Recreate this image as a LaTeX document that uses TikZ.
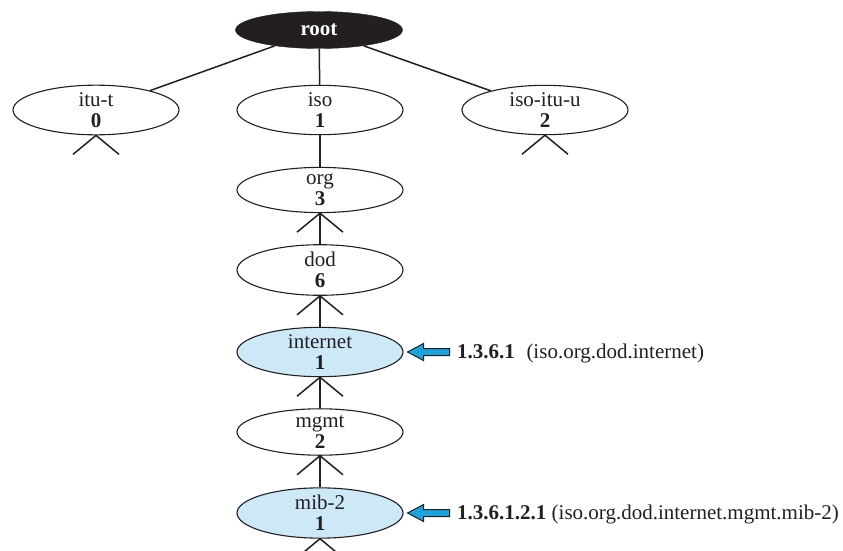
\documentclass[tikz,border=0pt]{standalone}
\usepackage{fontspec}
\setmainfont{Liberation Serif}
\usetikzlibrary{calc,shapes.geometric}
\definecolor{ink}{HTML}{231F20}
\definecolor{paleblue}{HTML}{CDE9F8}
\definecolor{arrowblue}{HTML}{1AA3DC}

% short "other children" mark under a node
\newcommand\forkbelow[1]{\draw[edge] (#1.south) -- ++(-23,19) (#1.south) -- ++(23,19);}

\begin{document}
\begin{tikzpicture}[x=1pt,y=-1pt,
  oid/.style={ellipse, draw=ink, line width=1.1pt, fill=white,
    minimum width=166pt, minimum height=44pt, inner sep=0pt,
    align=center, font=\fontsize{21}{21}\selectfont, text=ink},
  hot/.style={oid, fill=paleblue},
  rootnode/.style={ellipse, draw=ink, fill=ink, minimum width=167pt,
    minimum height=37pt, inner sep=0pt, text=white,
    font=\fontsize{21}{21}\selectfont\bfseries},
  edge/.style={draw=ink, line width=1.5pt},
  blockarrow/.style={draw=ink, line width=1pt, fill=arrowblue, line join=miter},
  note/.style={anchor=base west, inner sep=0pt,
    font=\fontsize{21}{21}\selectfont, text=ink}
]
\useasboundingbox (0,0) rectangle (843,551);

% tree nodes
\node[rootnode] (root) at (319,30) {root};
\node[oid] (itut)  at (96,110)  {itu-t\\\textbf{0}};
\node[oid] (iso)   at (320,110) {iso\\\textbf{1}};
\node[oid] (isoitu) at (545,110) {iso-itu-u\\\textbf{2}};
\node[oid] (org)   at (320,190) {org\\\textbf{3}};
\node[oid] (dod)   at (320,270) {dod\\\textbf{6}};
\node[hot] (internet) at (320,352) {internet\\\textbf{1}};
\node[oid] (mgmt)  at (320,432) {mgmt\\\textbf{2}};
\node[hot] (mib)   at (320,513) {mib-2\\\textbf{1}};

% branches
\draw[edge] (root) -- (itut);
\draw[edge] (root) -- (iso);
\draw[edge] (root) -- (isoitu);
\draw[edge] (iso) -- (org);
\draw[edge] (org) -- (dod);
\draw[edge] (dod) -- (internet);
\draw[edge] (internet) -- (mgmt);
\draw[edge] (mgmt) -- (mib);

\forkbelow{itut}
\forkbelow{isoitu}
\forkbelow{org}
\forkbelow{dod}
\forkbelow{internet}
\forkbelow{mgmt}
\forkbelow{mib}

% object identifier labels with pointer arrows
\node[note] (oidinternet) at (457,358) {\textbf{1.3.6.1}\hspace{0.55em}(iso.org.dod.internet)};
\node[note] (oidmib) at (457,519) {\textbf{1.3.6.1.2.1} (iso.org.dod.internet.mgmt.mib-2)};

\draw[blockarrow] ($(internet.east)+(4,0)$) -- ++(16,-8.5) -- ++(0,5) -- ++(26,0)
  -- ++(0,7) -- ++(-26,0) -- ++(0,5) -- cycle;
\draw[blockarrow] ($(mib.east)+(4,0)$) -- ++(16,-8.5) -- ++(0,5) -- ++(26,0)
  -- ++(0,7) -- ++(-26,0) -- ++(0,5) -- cycle;
\end{tikzpicture}
\end{document}
